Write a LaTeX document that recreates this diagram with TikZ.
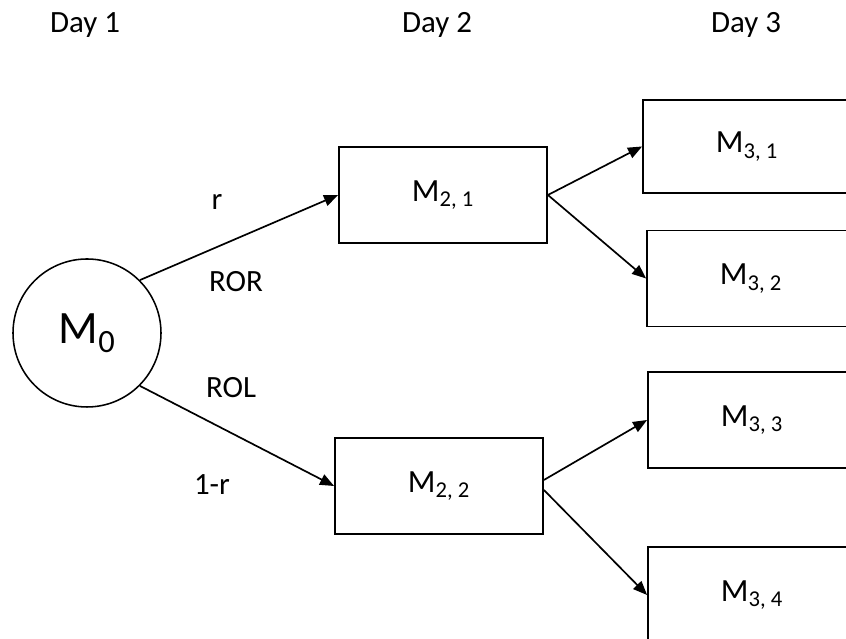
\documentclass[tikz,border=0pt]{standalone}
\usepackage{fontspec}
\setmainfont{Carlito}
\usetikzlibrary{arrows.meta}

\begin{document}
\begin{tikzpicture}[
    every node/.style={font=\fontsize{22}{26}\selectfont},
    daybox/.style={draw, rectangle, line width=1.3pt, minimum width=5.2cm, minimum height=2.4cm, font=\fontsize{23}{27}\selectfont},
    link/.style={line width=1.2pt, -{Triangle[length=10pt,width=8pt]}}
  ]
      \clip (0,0) rectangle (21.15,15.975);

      % column heads
      \node [anchor=base] (day1) at (2.125,15.15) {Day 1};
      \node [anchor=base] (day2) at (10.925,15.15) {Day 2};
      \node [anchor=base] (day3) at (18.65,15.15) {Day 3};

      \node [draw, circle, line width=1.1pt, minimum size=3.7cm, font=\fontsize{33}{37}\selectfont] (m0) at (2.175,7.65) {M\textsubscript{0}};

      \node [daybox] (m21) at (11.075,11.1) {M\textsubscript{2, 1}};
      \node [daybox] (m22) at (10.975,3.825) {M\textsubscript{2, 2}};

      \node [daybox, minimum height=2.325cm] (m31) at (18.675,12.3125) {M\textsubscript{3, 1}};
      \node [daybox] (m32) at (18.775,9.0125) {M\textsubscript{3, 2}};
      \node [daybox] (m33) at (18.8,5.475) {M\textsubscript{3, 3}};
      \node [daybox] (m34) at (18.8,1.1) {M\textsubscript{3, 4}};

      \draw [link] (m0.45) -- (m21.west);
      \draw [link] (m0.-45) -- (m22.west);
      \draw [link] (m21.east) -- (m31.west);
      \draw [link] (m21.east) -- (m32.west);
      \draw [link] ([yshift=0.15cm]m22.east) -- (m33.west);
      \draw [link] ([yshift=-0.1cm]m22.east) -- (m34.west);

      % branch labels
      \node [anchor=base] (lr) at (5.425,10.725) {r};
      \node [anchor=base] (lror) at (5.9,8.675) {ROR};
      \node [anchor=base] (lrol) at (5.775,6.025) {ROL};
      \node [anchor=base] (lnr) at (5.3,3.6) {1-r};
    \end{tikzpicture}
\end{document}
